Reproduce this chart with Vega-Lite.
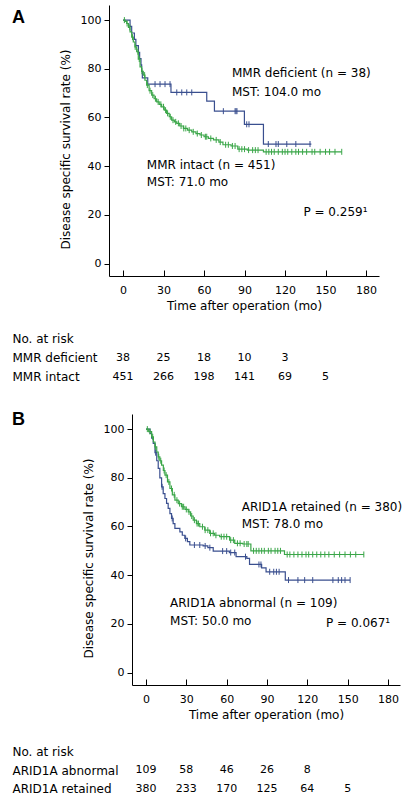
{
  "$schema": "https://vega.github.io/schema/vega-lite/v6.json",
  "padding": {"left": 11, "top": 5, "right": 5, "bottom": 0},
  "config": {
    "font": "DejaVu Sans",
    "view": {"stroke": null},
    "axis": {"domainColor": "black", "tickColor": "black", "labelColor": "black", "titleColor": "black", "labelFontSize": 11, "titleFontSize": 12, "titleFontWeight": "normal", "grid": false, "labelFont": "DejaVu Sans", "titleFont": "DejaVu Sans"},
    "text": {"font": "DejaVu Sans", "color": "black"}
  },
  "datasets": {
    "kmA": [
      {"g": "MMR deficient", "t": 0, "s": 100}, {"g": "MMR deficient", "t": 5.2, "s": 97.4}, {"g": "MMR deficient", "t": 6.4, "s": 94.7}, {"g": "MMR deficient", "t": 8.4, "s": 92.1}, {"g": "MMR deficient", "t": 9.5, "s": 89.5}, {"g": "MMR deficient", "t": 11.4, "s": 86.8}, {"g": "MMR deficient", "t": 12.3, "s": 84.2}, {"g": "MMR deficient", "t": 13.3, "s": 81.6}, {"g": "MMR deficient", "t": 13.8, "s": 78.9}, {"g": "MMR deficient", "t": 14.3, "s": 76.3}, {"g": "MMR deficient", "t": 18.3, "s": 73.7}, {"g": "MMR deficient", "t": 35.5, "s": 70.3}, {"g": "MMR deficient", "t": 62, "s": 66.7}, {"g": "MMR deficient", "t": 67.7, "s": 62.6}, {"g": "MMR deficient", "t": 89.9, "s": 57.2}, {"g": "MMR deficient", "t": 104, "s": 49.1}, {"g": "MMR deficient", "t": 139.5, "s": 49.1},
      {"g": "MMR intact", "t": 0, "s": 100}, {"g": "MMR intact", "t": 1.5, "s": 99.5}, {"g": "MMR intact", "t": 2.7, "s": 98.6}, {"g": "MMR intact", "t": 4, "s": 97}, {"g": "MMR intact", "t": 5.2, "s": 95.2}, {"g": "MMR intact", "t": 6.4, "s": 93}, {"g": "MMR intact", "t": 7.6, "s": 91}, {"g": "MMR intact", "t": 8.8, "s": 89}, {"g": "MMR intact", "t": 10.1, "s": 87}, {"g": "MMR intact", "t": 11.3, "s": 84}, {"g": "MMR intact", "t": 12.6, "s": 80.8}, {"g": "MMR intact", "t": 13.8, "s": 79}, {"g": "MMR intact", "t": 15, "s": 77.4}, {"g": "MMR intact", "t": 16.2, "s": 75.3}, {"g": "MMR intact", "t": 17.5, "s": 73.3}, {"g": "MMR intact", "t": 19.3, "s": 71}, {"g": "MMR intact", "t": 21.2, "s": 69.2}, {"g": "MMR intact", "t": 23, "s": 67.7}, {"g": "MMR intact", "t": 24.9, "s": 66.4}, {"g": "MMR intact", "t": 26.8, "s": 65.4}, {"g": "MMR intact", "t": 28.6, "s": 64.4}, {"g": "MMR intact", "t": 30.5, "s": 63}, {"g": "MMR intact", "t": 32.3, "s": 61.7}, {"g": "MMR intact", "t": 34.2, "s": 60.3}, {"g": "MMR intact", "t": 36, "s": 58.9}, {"g": "MMR intact", "t": 38, "s": 58.2}, {"g": "MMR intact", "t": 39.8, "s": 57.6}, {"g": "MMR intact", "t": 42, "s": 56.5}, {"g": "MMR intact", "t": 44.7, "s": 55.5}, {"g": "MMR intact", "t": 47.8, "s": 54.8}, {"g": "MMR intact", "t": 50.9, "s": 54.1}, {"g": "MMR intact", "t": 54, "s": 53.4}, {"g": "MMR intact", "t": 57, "s": 52.8}, {"g": "MMR intact", "t": 60, "s": 52.1}, {"g": "MMR intact", "t": 63.2, "s": 51.4}, {"g": "MMR intact", "t": 67, "s": 50.8}, {"g": "MMR intact", "t": 71, "s": 49.9}, {"g": "MMR intact", "t": 74, "s": 48.8}, {"g": "MMR intact", "t": 80, "s": 48.3}, {"g": "MMR intact", "t": 85, "s": 47}, {"g": "MMR intact", "t": 92, "s": 46.6}, {"g": "MMR intact", "t": 104, "s": 45.9}, {"g": "MMR intact", "t": 162, "s": 45.9}
    ],
    "cenA": [
      {"g": "MMR deficient", "t": 23.7, "s": 73.7}, {"g": "MMR deficient", "t": 27.4, "s": 73.7}, {"g": "MMR deficient", "t": 31.1, "s": 73.7}, {"g": "MMR deficient", "t": 34.8, "s": 73.7}, {"g": "MMR deficient", "t": 39.8, "s": 70.3}, {"g": "MMR deficient", "t": 43.5, "s": 70.3}, {"g": "MMR deficient", "t": 47.2, "s": 70.3}, {"g": "MMR deficient", "t": 50.9, "s": 70.3}, {"g": "MMR deficient", "t": 74.3, "s": 62.6}, {"g": "MMR deficient", "t": 83, "s": 62.6}, {"g": "MMR deficient", "t": 83.7, "s": 62.6}, {"g": "MMR deficient", "t": 84.4, "s": 62.6}, {"g": "MMR deficient", "t": 91.6, "s": 57.2}, {"g": "MMR deficient", "t": 93.3, "s": 57.2}, {"g": "MMR deficient", "t": 107.6, "s": 49.1}, {"g": "MMR deficient", "t": 113.3, "s": 49.1}, {"g": "MMR deficient", "t": 115, "s": 49.1}, {"g": "MMR deficient", "t": 121.3, "s": 49.1}, {"g": "MMR deficient", "t": 128, "s": 49.1}, {"g": "MMR deficient", "t": 138.5, "s": 49.1},
      {"g": "MMR intact", "t": 1, "s": 100}, {"g": "MMR intact", "t": 3, "s": 98.6}, {"g": "MMR intact", "t": 5, "s": 97}, {"g": "MMR intact", "t": 7, "s": 93}, {"g": "MMR intact", "t": 9, "s": 89}, {"g": "MMR intact", "t": 11, "s": 87}, {"g": "MMR intact", "t": 12, "s": 84}, {"g": "MMR intact", "t": 14, "s": 79}, {"g": "MMR intact", "t": 16, "s": 77.4}, {"g": "MMR intact", "t": 18, "s": 73.3}, {"g": "MMR intact", "t": 20, "s": 71}, {"g": "MMR intact", "t": 22, "s": 69.2}, {"g": "MMR intact", "t": 24, "s": 67.7}, {"g": "MMR intact", "t": 26, "s": 66.4}, {"g": "MMR intact", "t": 28, "s": 65.4}, {"g": "MMR intact", "t": 30, "s": 64.4}, {"g": "MMR intact", "t": 31.5, "s": 63}, {"g": "MMR intact", "t": 33, "s": 61.7}, {"g": "MMR intact", "t": 35, "s": 60.3}, {"g": "MMR intact", "t": 37, "s": 58.9}, {"g": "MMR intact", "t": 39, "s": 58.2}, {"g": "MMR intact", "t": 41, "s": 57.6}, {"g": "MMR intact", "t": 43, "s": 56.5}, {"g": "MMR intact", "t": 45, "s": 55.5}, {"g": "MMR intact", "t": 46.5, "s": 55.5}, {"g": "MMR intact", "t": 49, "s": 54.8}, {"g": "MMR intact", "t": 52, "s": 54.1}, {"g": "MMR intact", "t": 55, "s": 53.4}, {"g": "MMR intact", "t": 58, "s": 52.8}, {"g": "MMR intact", "t": 61, "s": 52.1}, {"g": "MMR intact", "t": 62, "s": 52.1}, {"g": "MMR intact", "t": 65, "s": 51.4}, {"g": "MMR intact", "t": 69, "s": 50.8}, {"g": "MMR intact", "t": 72, "s": 49.9}, {"g": "MMR intact", "t": 76, "s": 48.8}, {"g": "MMR intact", "t": 78, "s": 48.8}, {"g": "MMR intact", "t": 81, "s": 48.3}, {"g": "MMR intact", "t": 83, "s": 48.3}, {"g": "MMR intact", "t": 86, "s": 47}, {"g": "MMR intact", "t": 88, "s": 47}, {"g": "MMR intact", "t": 90, "s": 47}, {"g": "MMR intact", "t": 93, "s": 46.6}, {"g": "MMR intact", "t": 96, "s": 46.6}, {"g": "MMR intact", "t": 98, "s": 46.6}, {"g": "MMR intact", "t": 100, "s": 46.6}, {"g": "MMR intact", "t": 106, "s": 45.9}, {"g": "MMR intact", "t": 108, "s": 45.9}, {"g": "MMR intact", "t": 110, "s": 45.9}, {"g": "MMR intact", "t": 112, "s": 45.9}, {"g": "MMR intact", "t": 115, "s": 45.9}, {"g": "MMR intact", "t": 118, "s": 45.9}, {"g": "MMR intact", "t": 120, "s": 45.9}, {"g": "MMR intact", "t": 122, "s": 45.9}, {"g": "MMR intact", "t": 125, "s": 45.9}, {"g": "MMR intact", "t": 128, "s": 45.9}, {"g": "MMR intact", "t": 130, "s": 45.9}, {"g": "MMR intact", "t": 133, "s": 45.9}, {"g": "MMR intact", "t": 136, "s": 45.9}, {"g": "MMR intact", "t": 140, "s": 45.9}, {"g": "MMR intact", "t": 142, "s": 45.9}, {"g": "MMR intact", "t": 146, "s": 45.9}, {"g": "MMR intact", "t": 150, "s": 45.9}, {"g": "MMR intact", "t": 153, "s": 45.9}, {"g": "MMR intact", "t": 157, "s": 45.9}, {"g": "MMR intact", "t": 162, "s": 45.9}
    ],
    "labA": [
      {"label": "MMR deficient (n = 38)", "t": 80.7, "s": 78.2},
      {"label": "MST: 104.0 mo", "t": 80.7, "s": 70.4},
      {"label": "MMR intact (n = 451)", "t": 17.6, "s": 40.5},
      {"label": "MST: 71.0 mo", "t": 17.6, "s": 33.6},
      {"label": "P = 0.259¹", "t": 133.6, "s": 21.3}
    ],
    "riskA": [
      {"row": "MMR deficient", "t": 0, "n": "38"}, {"row": "MMR deficient", "t": 30, "n": "25"}, {"row": "MMR deficient", "t": 60, "n": "18"}, {"row": "MMR deficient", "t": 90, "n": "10"}, {"row": "MMR deficient", "t": 120, "n": "3"},
      {"row": "MMR intact", "t": 0, "n": "451"}, {"row": "MMR intact", "t": 30, "n": "266"}, {"row": "MMR intact", "t": 60, "n": "198"}, {"row": "MMR intact", "t": 90, "n": "141"}, {"row": "MMR intact", "t": 120, "n": "69"}, {"row": "MMR intact", "t": 150, "n": "5"}
    ],
    "kmB": [
      {"g": "ARID1A abnormal", "t": 0, "s": 100}, {"g": "ARID1A abnormal", "t": 3, "s": 98.2}, {"g": "ARID1A abnormal", "t": 4.2, "s": 96.3}, {"g": "ARID1A abnormal", "t": 5.4, "s": 94.1}, {"g": "ARID1A abnormal", "t": 6.7, "s": 90.3}, {"g": "ARID1A abnormal", "t": 8, "s": 87}, {"g": "ARID1A abnormal", "t": 9.1, "s": 83.9}, {"g": "ARID1A abnormal", "t": 10.3, "s": 80}, {"g": "ARID1A abnormal", "t": 11.6, "s": 76.3}, {"g": "ARID1A abnormal", "t": 12.8, "s": 73.5}, {"g": "ARID1A abnormal", "t": 14.1, "s": 71.5}, {"g": "ARID1A abnormal", "t": 15.3, "s": 69.5}, {"g": "ARID1A abnormal", "t": 16.5, "s": 67.4}, {"g": "ARID1A abnormal", "t": 17.8, "s": 65.3}, {"g": "ARID1A abnormal", "t": 19, "s": 63.3}, {"g": "ARID1A abnormal", "t": 20.2, "s": 61.2}, {"g": "ARID1A abnormal", "t": 21.5, "s": 59.2}, {"g": "ARID1A abnormal", "t": 25.2, "s": 57.8}, {"g": "ARID1A abnormal", "t": 27, "s": 56.4}, {"g": "ARID1A abnormal", "t": 28.9, "s": 55.1}, {"g": "ARID1A abnormal", "t": 30.8, "s": 53.8}, {"g": "ARID1A abnormal", "t": 32.6, "s": 52.4}, {"g": "ARID1A abnormal", "t": 42.5, "s": 52}, {"g": "ARID1A abnormal", "t": 46, "s": 51.3}, {"g": "ARID1A abnormal", "t": 50, "s": 49.9}, {"g": "ARID1A abnormal", "t": 62, "s": 49.3}, {"g": "ARID1A abnormal", "t": 67, "s": 47.6}, {"g": "ARID1A abnormal", "t": 75, "s": 46.9}, {"g": "ARID1A abnormal", "t": 77, "s": 44.4}, {"g": "ARID1A abnormal", "t": 86, "s": 43}, {"g": "ARID1A abnormal", "t": 89.3, "s": 41.4}, {"g": "ARID1A abnormal", "t": 103.6, "s": 38}, {"g": "ARID1A abnormal", "t": 151.8, "s": 38},
      {"g": "ARID1A retained", "t": 0, "s": 100}, {"g": "ARID1A retained", "t": 2, "s": 99}, {"g": "ARID1A retained", "t": 4.2, "s": 96.8}, {"g": "ARID1A retained", "t": 5.5, "s": 94.7}, {"g": "ARID1A retained", "t": 6.7, "s": 92.7}, {"g": "ARID1A retained", "t": 8, "s": 90.6}, {"g": "ARID1A retained", "t": 9.1, "s": 88.6}, {"g": "ARID1A retained", "t": 10.3, "s": 87}, {"g": "ARID1A retained", "t": 11.6, "s": 85.2}, {"g": "ARID1A retained", "t": 12.9, "s": 83}, {"g": "ARID1A retained", "t": 14.1, "s": 81.1}, {"g": "ARID1A retained", "t": 16, "s": 78.3}, {"g": "ARID1A retained", "t": 17.8, "s": 75.6}, {"g": "ARID1A retained", "t": 19.6, "s": 73}, {"g": "ARID1A retained", "t": 21.5, "s": 70.8}, {"g": "ARID1A retained", "t": 24, "s": 69.4}, {"g": "ARID1A retained", "t": 26.4, "s": 68.1}, {"g": "ARID1A retained", "t": 29, "s": 67}, {"g": "ARID1A retained", "t": 31.4, "s": 66}, {"g": "ARID1A retained", "t": 33.2, "s": 64.3}, {"g": "ARID1A retained", "t": 35.1, "s": 62.6}, {"g": "ARID1A retained", "t": 37.5, "s": 61.2}, {"g": "ARID1A retained", "t": 40, "s": 59.9}, {"g": "ARID1A retained", "t": 43.7, "s": 58.5}, {"g": "ARID1A retained", "t": 47.4, "s": 57.2}, {"g": "ARID1A retained", "t": 51, "s": 56.4}, {"g": "ARID1A retained", "t": 54.8, "s": 55.8}, {"g": "ARID1A retained", "t": 62.2, "s": 54.4}, {"g": "ARID1A retained", "t": 66, "s": 53.1}, {"g": "ARID1A retained", "t": 72, "s": 52.8}, {"g": "ARID1A retained", "t": 78, "s": 50}, {"g": "ARID1A retained", "t": 103, "s": 48.5}, {"g": "ARID1A retained", "t": 162, "s": 48.5}
    ],
    "cenB": [
      {"g": "ARID1A abnormal", "t": 7.2, "s": 90.3}, {"g": "ARID1A abnormal", "t": 12, "s": 76.3}, {"g": "ARID1A abnormal", "t": 19.5, "s": 63.3}, {"g": "ARID1A abnormal", "t": 29.5, "s": 55.1}, {"g": "ARID1A abnormal", "t": 36, "s": 52.4}, {"g": "ARID1A abnormal", "t": 40, "s": 52.4}, {"g": "ARID1A abnormal", "t": 44, "s": 52}, {"g": "ARID1A abnormal", "t": 47.5, "s": 51.3}, {"g": "ARID1A abnormal", "t": 57, "s": 49.9}, {"g": "ARID1A abnormal", "t": 60, "s": 49.9}, {"g": "ARID1A abnormal", "t": 63, "s": 49.3}, {"g": "ARID1A abnormal", "t": 66, "s": 49.3}, {"g": "ARID1A abnormal", "t": 74, "s": 47.6}, {"g": "ARID1A abnormal", "t": 84, "s": 44.4}, {"g": "ARID1A abnormal", "t": 85.5, "s": 44.4}, {"g": "ARID1A abnormal", "t": 92, "s": 41.4}, {"g": "ARID1A abnormal", "t": 95, "s": 41.4}, {"g": "ARID1A abnormal", "t": 97, "s": 41.4}, {"g": "ARID1A abnormal", "t": 99, "s": 41.4}, {"g": "ARID1A abnormal", "t": 106, "s": 38}, {"g": "ARID1A abnormal", "t": 113, "s": 38}, {"g": "ARID1A abnormal", "t": 118, "s": 38}, {"g": "ARID1A abnormal", "t": 124, "s": 38}, {"g": "ARID1A abnormal", "t": 139, "s": 38}, {"g": "ARID1A abnormal", "t": 143, "s": 38}, {"g": "ARID1A abnormal", "t": 145.5, "s": 38}, {"g": "ARID1A abnormal", "t": 148, "s": 38}, {"g": "ARID1A abnormal", "t": 151.8, "s": 38},
      {"g": "ARID1A retained", "t": 1, "s": 100}, {"g": "ARID1A retained", "t": 3, "s": 99}, {"g": "ARID1A retained", "t": 5, "s": 96.8}, {"g": "ARID1A retained", "t": 7, "s": 92.7}, {"g": "ARID1A retained", "t": 9.5, "s": 88.6}, {"g": "ARID1A retained", "t": 11, "s": 87}, {"g": "ARID1A retained", "t": 13.5, "s": 83}, {"g": "ARID1A retained", "t": 15, "s": 81.1}, {"g": "ARID1A retained", "t": 17, "s": 78.3}, {"g": "ARID1A retained", "t": 19, "s": 75.6}, {"g": "ARID1A retained", "t": 21, "s": 73}, {"g": "ARID1A retained", "t": 23, "s": 70.8}, {"g": "ARID1A retained", "t": 25, "s": 69.4}, {"g": "ARID1A retained", "t": 27, "s": 68.1}, {"g": "ARID1A retained", "t": 28, "s": 68.1}, {"g": "ARID1A retained", "t": 30, "s": 67}, {"g": "ARID1A retained", "t": 32, "s": 66}, {"g": "ARID1A retained", "t": 34, "s": 64.3}, {"g": "ARID1A retained", "t": 36, "s": 62.6}, {"g": "ARID1A retained", "t": 38, "s": 61.2}, {"g": "ARID1A retained", "t": 39, "s": 61.2}, {"g": "ARID1A retained", "t": 42, "s": 59.9}, {"g": "ARID1A retained", "t": 44, "s": 58.5}, {"g": "ARID1A retained", "t": 46, "s": 58.5}, {"g": "ARID1A retained", "t": 48, "s": 57.2}, {"g": "ARID1A retained", "t": 50, "s": 57.2}, {"g": "ARID1A retained", "t": 52, "s": 56.4}, {"g": "ARID1A retained", "t": 56, "s": 55.8}, {"g": "ARID1A retained", "t": 58, "s": 55.8}, {"g": "ARID1A retained", "t": 60, "s": 55.8}, {"g": "ARID1A retained", "t": 63, "s": 54.4}, {"g": "ARID1A retained", "t": 65, "s": 54.4}, {"g": "ARID1A retained", "t": 68, "s": 53.1}, {"g": "ARID1A retained", "t": 70, "s": 53.1}, {"g": "ARID1A retained", "t": 73, "s": 52.8}, {"g": "ARID1A retained", "t": 75, "s": 52.8}, {"g": "ARID1A retained", "t": 76, "s": 52.8}, {"g": "ARID1A retained", "t": 80, "s": 50}, {"g": "ARID1A retained", "t": 82, "s": 50}, {"g": "ARID1A retained", "t": 84, "s": 50}, {"g": "ARID1A retained", "t": 86, "s": 50}, {"g": "ARID1A retained", "t": 88, "s": 50}, {"g": "ARID1A retained", "t": 91, "s": 50}, {"g": "ARID1A retained", "t": 93, "s": 50}, {"g": "ARID1A retained", "t": 96, "s": 50}, {"g": "ARID1A retained", "t": 98, "s": 50}, {"g": "ARID1A retained", "t": 100, "s": 50}, {"g": "ARID1A retained", "t": 105, "s": 48.5}, {"g": "ARID1A retained", "t": 107, "s": 48.5}, {"g": "ARID1A retained", "t": 110, "s": 48.5}, {"g": "ARID1A retained", "t": 113, "s": 48.5}, {"g": "ARID1A retained", "t": 116, "s": 48.5}, {"g": "ARID1A retained", "t": 119, "s": 48.5}, {"g": "ARID1A retained", "t": 121, "s": 48.5}, {"g": "ARID1A retained", "t": 124, "s": 48.5}, {"g": "ARID1A retained", "t": 127, "s": 48.5}, {"g": "ARID1A retained", "t": 130, "s": 48.5}, {"g": "ARID1A retained", "t": 133, "s": 48.5}, {"g": "ARID1A retained", "t": 136, "s": 48.5}, {"g": "ARID1A retained", "t": 140, "s": 48.5}, {"g": "ARID1A retained", "t": 144, "s": 48.5}, {"g": "ARID1A retained", "t": 148, "s": 48.5}, {"g": "ARID1A retained", "t": 152, "s": 48.5}, {"g": "ARID1A retained", "t": 156, "s": 48.5}, {"g": "ARID1A retained", "t": 162, "s": 48.5}
    ],
    "labB": [
      {"label": "ARID1A retained (n = 380)", "t": 71.2, "s": 68.1},
      {"label": "MST: 78.0 mo", "t": 71.2, "s": 60.9},
      {"label": "ARID1A abnormal (n = 109)", "t": 17.9, "s": 28.7},
      {"label": "MST: 50.0 mo", "t": 17.9, "s": 21.1},
      {"label": "P = 0.067¹", "t": 133.9, "s": 20.5}
    ],
    "riskB": [
      {"row": "ARID1A abnormal", "t": 0, "n": "109"}, {"row": "ARID1A abnormal", "t": 30, "n": "58"}, {"row": "ARID1A abnormal", "t": 60, "n": "46"}, {"row": "ARID1A abnormal", "t": 90, "n": "26"}, {"row": "ARID1A abnormal", "t": 120, "n": "8"},
      {"row": "ARID1A retained", "t": 0, "n": "380"}, {"row": "ARID1A retained", "t": 30, "n": "233"}, {"row": "ARID1A retained", "t": 60, "n": "170"}, {"row": "ARID1A retained", "t": 90, "n": "125"}, {"row": "ARID1A retained", "t": 120, "n": "64"}, {"row": "ARID1A retained", "t": 150, "n": "5"}
    ]
  },
  "spacing": 25,
  "vconcat": [
    {
      "spacing": 0,
      "hconcat": [
        {"width": 1, "height": 1, "data": {"values": []}, "mark": "point"},
        {
          "spacing": 18,
          "vconcat": [
            {
              "title": {"text": "A", "anchor": "start", "frame": "group", "orient": "top", "offset": -4, "baseline": "top", "font": "Liberation Sans", "fontSize": 18, "fontWeight": "bold", "color": "black", "dx": -97, "dy": 17.5},
              "width": 270, "height": 271,
              "encoding": {
                "x": {"field": "t", "type": "quantitative", "scale": {"domain": [-10.4, 189.6], "nice": false, "zero": false}, "axis": {"title": "Time after operation (mo)", "values": [0, 30, 60, 90, 120, 150, 180], "tickSize": -6, "labelPadding": 14, "titlePadding": 5}},
                "y": {"field": "s", "type": "quantitative", "scale": {"domain": [-5.1, 106.2], "nice": false, "zero": false}, "axis": {"title": "Disease specific survival rate (%)", "values": [0, 20, 40, 60, 80, 100], "tickSize": 5, "labelPadding": 3, "titlePadding": 8, "titleY": 144}}
              },
              "layer": [
                {"data": {"name": "kmA"}, "mark": {"type": "line", "interpolate": "step-after", "strokeWidth": 1.2},
                 "encoding": {"detail": {"field": "g"}, "color": {"field": "g", "type": "nominal", "scale": {"domain": ["MMR deficient", "MMR intact"], "range": ["#3a4f8f", "#3aa648"]}, "legend": null}}},
                {"data": {"name": "cenA"}, "mark": {"type": "point", "shape": "M0,-1L0,1", "size": 36, "filled": false, "strokeWidth": 1, "opacity": 1},
                 "encoding": {"color": {"field": "g", "type": "nominal", "legend": null}}},
                {"data": {"name": "labA"}, "mark": {"type": "text", "align": "left", "baseline": "middle", "fontSize": 12},
                 "encoding": {"text": {"field": "label"}}}
              ]
            },
            {
              "width": 270, "height": 57,
              "data": {"name": "riskA"},
              "mark": {"type": "text", "fontSize": 11},
              "encoding": {
                "x": {"field": "t", "type": "quantitative", "scale": {"domain": [-10.4, 189.6], "nice": false, "zero": false}, "axis": null},
                "y": {"field": "row", "type": "nominal", "scale": {"domain": ["No. at risk", "MMR deficient", "MMR intact"]}, "axis": {"title": null, "domain": false, "ticks": false, "tickSize": 0, "labelAlign": "left", "labelPadding": 97, "labelFontSize": 12}},
                "text": {"field": "n"}
              }
            }
          ]
        }
      ]
    },
    {
      "spacing": 0,
      "hconcat": [
        {"width": 1, "height": 1, "data": {"values": []}, "mark": "point"},
        {
          "spacing": 22,
          "vconcat": [
            {
              "title": {"text": "B", "anchor": "start", "frame": "group", "orient": "top", "offset": -4, "baseline": "top", "font": "Liberation Sans", "fontSize": 18, "fontWeight": "bold", "color": "black", "dx": -120, "dy": 11},
              "width": 268, "height": 271,
              "encoding": {
                "x": {"field": "t", "type": "quantitative", "scale": {"domain": [-10.4, 188.9], "nice": false, "zero": false}, "axis": {"title": "Time after operation (mo)", "values": [0, 30, 60, 90, 120, 150, 180], "tickSize": -6, "labelPadding": 14, "titlePadding": 5}},
                "y": {"field": "s", "type": "quantitative", "scale": {"domain": [-5.1, 106.2], "nice": false, "zero": false}, "axis": {"title": "Disease specific survival rate (%)", "values": [0, 20, 40, 60, 80, 100], "tickSize": 5, "labelPadding": 3, "titlePadding": 8, "titleY": 144}}
              },
              "layer": [
                {"data": {"name": "kmB"}, "mark": {"type": "line", "interpolate": "step-after", "strokeWidth": 1.2},
                 "encoding": {"detail": {"field": "g"}, "color": {"field": "g", "type": "nominal", "scale": {"domain": ["ARID1A abnormal", "ARID1A retained"], "range": ["#3a4f8f", "#3aa648"]}, "legend": null}}},
                {"data": {"name": "cenB"}, "mark": {"type": "point", "shape": "M0,-1L0,1", "size": 36, "filled": false, "strokeWidth": 1, "opacity": 1},
                 "encoding": {"color": {"field": "g", "type": "nominal", "legend": null}}},
                {"data": {"name": "labB"}, "mark": {"type": "text", "align": "left", "baseline": "middle", "fontSize": 12},
                 "encoding": {"text": {"field": "label"}}}
              ]
            },
            {
              "width": 268, "height": 56,
              "data": {"name": "riskB"},
              "mark": {"type": "text", "fontSize": 11},
              "encoding": {
                "x": {"field": "t", "type": "quantitative", "scale": {"domain": [-10.4, 188.9], "nice": false, "zero": false}, "axis": null},
                "y": {"field": "row", "type": "nominal", "scale": {"domain": ["No. at risk", "ARID1A abnormal", "ARID1A retained"]}, "axis": {"title": null, "domain": false, "ticks": false, "tickSize": 0, "labelAlign": "left", "labelPadding": 120, "labelFontSize": 12}},
                "text": {"field": "n"}
              }
            }
          ]
        }
      ]
    }
  ]
}
